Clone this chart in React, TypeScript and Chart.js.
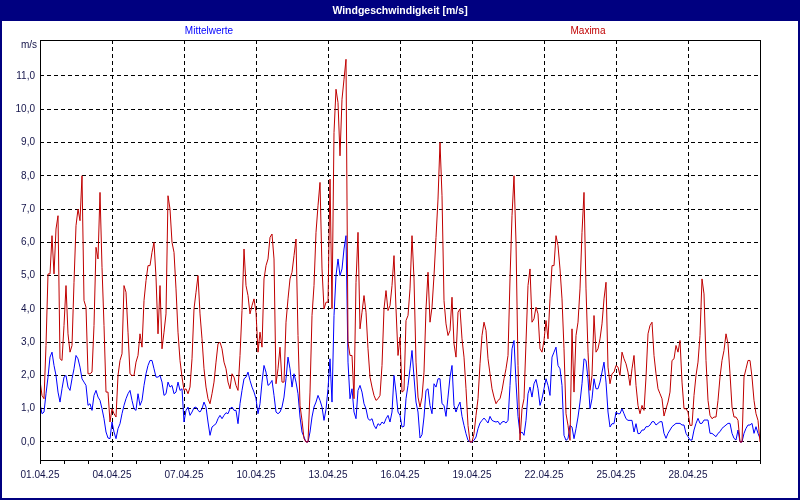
import React, { useEffect, useRef } from 'react';
import { Chart, registerables } from 'chart.js';

Chart.register(...registerables);

const TITLE = 'Windgeschwindigkeit [m/s]';
const UNIT = 'm/s';
const MEAN_LABEL = 'Mittelwerte';
const MAX_LABEL = 'Maxima';

// x axis: days since 01.04.25, labels every third day
const X_TICK_DAYS = [0, 3, 6, 9, 12, 15, 18, 21, 24, 27];
const X_TICK_LABELS = ['01.04.25', '04.04.25', '07.04.25', '10.04.25', '13.04.25', '16.04.25', '19.04.25', '22.04.25', '25.04.25', '28.04.25'];
const DAYS = 30;
const SAMPLES_PER_DAY = 12; // one value every 2 hours
const Y_TICKS = [0, 1, 2, 3, 4, 5, 6, 7, 8, 9, 10, 11];

// Maxima [m/s], 01.04. – 30.04.
const MAXIMA = [
  1.85, 1.4, 1.3, 2.9, 5.05, 5.05, 6.2, 5.05, 6.4, 6.8, 2.5, 2.45, 3.5, 4.7, 3.25, 2.7, 2.9, 4.8, 6.5, 7.0,
  6.65, 8.0, 4.25, 4.05, 2.05, 2.05, 2.1, 3.5, 5.85, 5.5, 7.5, 5.25, 3.5, 1.5, 1.5, 0.6, 1.0, 0.85, 0.75, 2.0,
  2.45, 2.65, 4.7, 4.5, 3.3, 2.05, 2.0, 2.0, 2.4, 2.6, 3.25, 2.85, 4.25, 4.85, 5.3, 5.3, 5.7, 6.0, 4.95, 3.25,

  4.7, 2.8, 3.3, 3.85, 7.4, 7.0, 6.0, 5.7, 4.6, 3.3, 2.45, 1.95, 1.55, 1.6, 1.45, 1.65, 2.5, 4.0, 4.5, 5.0,
  3.85, 3.1, 2.2, 1.65, 1.3, 1.15, 1.45, 1.8, 2.4, 2.95, 3.0, 2.8, 2.4, 2.2, 1.8, 1.6, 2.05, 1.95, 1.7, 1.55,
  2.6, 3.95, 5.8, 4.7, 4.4, 3.85, 4.1, 4.3, 3.9, 2.7, 3.3, 2.85, 4.9, 5.3, 5.5, 6.15, 6.25, 5.5, 1.75, 2.2,

  2.85, 1.8, 1.8, 3.6, 4.3, 4.9, 5.1, 5.6, 6.1, 3.2, 1.1, 0.65, 0.1, 0.0, 0.0, 1.5, 3.8, 4.7, 6.3, 7.1,
  7.8, 5.2, 4.0, 4.2, 4.2, 7.9, 4.0, 9.3, 10.6, 10.2, 8.6, 10.3, 10.9, 11.5, 3.0, 2.6, 2.6, 1.3, 4.8, 6.3,
  3.4, 3.9, 4.4, 3.9, 2.8, 1.95, 1.65, 1.4, 1.25, 1.3, 1.4, 2.3, 4.0, 4.55, 3.95, 4.1, 4.7, 5.6, 4.0, 2.6,

  3.15, 1.5, 1.55, 3.65, 3.8, 4.6, 6.2, 4.9, 2.4, 1.35, 1.05, 1.35, 2.1, 4.0, 5.1, 3.6, 4.05, 5.0, 6.15, 7.3,
  9.0, 7.4, 4.25, 3.55, 3.2, 3.35, 4.35, 2.95, 2.55, 3.9, 4.0, 3.1, 2.55, 1.6, 0.5, 0.0, 0.0, 0.25, 0.8, 1.3,
  2.35, 3.2, 3.6, 3.35, 2.5, 2.05, 1.6, 1.35, 1.15, 1.25, 1.3, 1.55, 1.9, 2.2, 2.6, 4.9, 6.8, 8.0, 6.0, 2.3,

  0.05, 1.0, 1.3, 3.0, 4.7, 5.2, 3.6, 3.7, 4.05, 3.85, 2.8, 2.7, 3.05, 3.65, 3.1, 4.3, 5.3, 5.3, 6.2, 5.9,
  5.2, 4.3, 2.8, 0.85, 0.5, 0.05, 3.4, 1.5, 3.2, 3.6, 4.6, 6.3, 7.5, 4.6, 2.7, 1.55, 2.0, 3.8, 2.7, 2.8,
  3.1, 3.55, 4.3, 4.8, 2.25, 1.75, 2.05, 2.1, 2.3, 2.25, 2.0, 2.7, 2.5, 2.35, 2.1, 1.7, 2.2, 2.6, 1.7, 1.1,

  0.85, 1.1, 0.95, 1.95, 3.25, 3.5, 3.6, 2.6, 2.05, 1.6, 1.45, 1.3, 0.78, 1.0, 1.2, 1.5, 2.45, 2.5, 2.9, 2.7,
  3.05, 1.8, 1.0, 1.0, 0.9, 0.5, 0.5, 1.4, 2.0, 2.4, 3.2, 4.9, 4.45, 2.45, 1.25, 0.8, 0.7, 0.75, 0.75, 1.25,
  1.95, 2.45, 2.75, 3.25, 2.95, 2.05, 1.05, 0.75, 0.75, 0.65, 0.0, 0.0, 1.95, 2.2, 2.45, 2.45, 1.95, 1.25, 0.85, 0.65,
  0.0,
];

// Mittelwerte [m/s], 01.04. – 30.04.
const MITTELWERTE = [
  1.15, 0.85, 0.9, 1.45, 1.95, 2.55, 2.7, 2.3, 2.0, 1.5, 1.2, 1.6, 1.95, 2.0, 1.65, 1.55, 1.9, 2.2, 2.6, 2.5,
  2.25, 1.9, 1.8, 1.7, 1.1, 1.15, 0.95, 1.4, 1.55, 1.35, 1.25, 1.0, 0.7, 0.3, 0.12, 0.1, 0.6, 0.3, 0.1, 0.4,
  0.55, 0.85, 1.1, 1.3, 1.45, 1.55, 1.25, 1.0, 0.95, 1.45, 1.1, 1.25, 1.7, 2.05, 2.3, 2.45, 2.45, 2.2, 1.95, 1.95,

  2.0, 1.8, 1.4, 1.45, 1.8, 1.65, 1.7, 1.45, 1.5, 1.8, 1.55, 1.6, 0.6, 0.95, 1.05, 0.8, 0.9, 1.03, 1.05, 0.95,
  0.9, 1.0, 1.2, 1.05, 0.6, 0.2, 0.45, 0.5, 0.55, 0.7, 0.8, 0.7, 0.8, 0.88, 0.85, 1.0, 1.05, 0.95, 0.95, 0.55,
  1.15, 1.55, 1.9, 1.95, 2.1, 1.85, 1.65, 1.5, 1.3, 0.85, 1.15, 1.8, 2.3, 2.1, 1.7, 1.75, 1.85, 1.4, 0.9, 0.85,

  0.9, 1.05, 1.35, 1.9, 2.55, 2.2, 1.65, 2.05, 1.8, 1.45, 0.75, 0.3, 0.15, 0.0, 0.0, 0.3, 0.75, 1.05, 1.2, 1.4,
  1.25, 1.05, 0.65, 0.98, 1.6, 2.5, 1.2, 3.8, 5.0, 5.5, 5.0, 5.2, 5.8, 6.2, 2.4, 1.3, 1.6, 0.9, 0.7, 1.55,
  1.7, 1.5, 1.15, 1.0, 0.7, 0.65, 0.7, 0.5, 0.4, 0.55, 0.5, 0.6, 0.55, 0.7, 0.8, 0.6, 0.9, 2.0, 1.5, 0.9,

  0.8, 0.45, 0.47, 1.3, 1.7, 2.2, 2.75, 1.95, 1.2, 0.9, 0.12, 0.22, 0.75, 1.55, 1.6, 1.1, 0.85, 1.75, 1.65, 1.9,
  1.9, 1.15, 1.1, 0.77, 1.35, 1.95, 2.3, 1.1, 0.9, 1.07, 1.2, 0.77, 0.5, 0.25, 0.05, 0.0, 0.0, 0.05, 0.15, 0.4,
  0.57, 0.65, 0.72, 0.65, 0.57, 0.77, 0.65, 0.62, 0.6, 0.62, 0.52, 0.6, 0.62, 0.57, 0.65, 1.7, 2.8, 3.05, 1.8, 0.77,

  0.25, 0.3, 0.2, 0.65, 1.45, 1.65, 1.35, 1.75, 1.88, 1.6, 1.1, 1.3, 1.6, 1.9, 1.7, 1.4, 2.55, 2.7, 2.85, 2.3,
  2.2, 1.7, 0.2, 0.05, 0.1, 0.5, 0.45, 0.1, 0.4, 0.75, 1.2, 1.75, 2.5, 2.45, 1.9, 1.0, 1.3, 1.9, 1.6, 1.6,
  1.8, 2.1, 2.4, 1.8, 0.9, 0.45, 0.55, 0.55, 0.9, 0.85, 0.85, 1.0, 0.85, 0.7, 0.65, 0.65, 0.65, 0.3, 0.55, 0.25,

  0.26, 0.36, 0.36, 0.46, 0.46, 0.51, 0.61, 0.61, 0.51, 0.56, 0.61, 0.61, 0.26, 0.11, 0.26, 0.36, 0.46, 0.51, 0.56, 0.56,
  0.56, 0.51, 0.51, 0.26, 0.16, 0.06, 0.06, 0.36, 0.56, 0.71, 0.56, 0.56, 0.66, 0.66, 0.66, 0.26, 0.26, 0.21, 0.16, 0.26,
  0.31, 0.41, 0.46, 0.51, 0.56, 0.56, 0.26, 0.11, 0.06, 0.36, 0.0, 0.0, 0.26, 0.41, 0.51, 0.51, 0.56, 0.26, 0.46, 0.26,
  0.11,
];

const NAVY = '#000080';
const BLUE = '#0000ff';
const RED = '#c00000';
const TEXT = '#14144a';
const FONT = '"Liberation Sans", Arial, sans-serif';

const framePlugin = {
  id: 'frame',
  beforeDraw(chart: any) {
    const { ctx, width, height } = chart;
    ctx.save();
    ctx.fillStyle = '#ffffff';
    ctx.fillRect(0, 0, width, height);
    ctx.fillStyle = NAVY;
    ctx.fillRect(0, 0, width, 21);
    ctx.strokeStyle = NAVY;
    ctx.lineWidth = 2;
    ctx.strokeRect(1, 1, width - 2, height - 2);
    ctx.textBaseline = 'middle';
    ctx.textAlign = 'center';
    ctx.fillStyle = '#ffffff';
    ctx.font = `bold 10.5px ${FONT}`;
    ctx.fillText(TITLE, width / 2, 11);
    ctx.font = `10px ${FONT}`;
    ctx.fillStyle = BLUE;
    ctx.fillText(chart.data.datasets[1].label, 209, 31);
    ctx.fillStyle = RED;
    ctx.fillText(chart.data.datasets[0].label, 588, 31);
    ctx.fillStyle = TEXT;
    ctx.textAlign = 'right';
    ctx.fillText(UNIT, 37, 45);
    ctx.restore();
  },
  afterDraw(chart: any) {
    const { ctx, chartArea } = chart;
    ctx.save();
    ctx.strokeStyle = '#000000';
    ctx.lineWidth = 1;
    ctx.strokeRect(chartArea.left + 0.5, chartArea.top + 0.5, chartArea.right - chartArea.left, chartArea.bottom - chartArea.top);
    ctx.restore();
  },
};

export default function App() {
  const ref = useRef<HTMLCanvasElement | null>(null);

  useEffect(() => {
    document.body.style.margin = '0';
    const canvas = ref.current;
    if (!canvas) return;
    const toPoints = (arr: number[]) => arr.map((v, i) => ({ x: i / SAMPLES_PER_DAY, y: v }));
    const chart = new Chart(canvas, {
      type: 'line',
      data: {
        datasets: [
          { label: MAX_LABEL, data: toPoints(MAXIMA), borderColor: RED, borderWidth: 1, pointRadius: 0, tension: 0, fill: false, order: 0 },
          { label: MEAN_LABEL, data: toPoints(MITTELWERTE), borderColor: BLUE, borderWidth: 1, pointRadius: 0, tension: 0, fill: false, order: 1 },
        ],
      },
      options: {
        animation: false,
        responsive: false,
        devicePixelRatio: 1,
        layout: { padding: { top: 40, right: 40, left: 0, bottom: 0 } },
        plugins: { legend: { display: false }, tooltip: { enabled: false }, title: { display: false } },
        scales: {
          x: {
            type: 'linear',
            min: 0,
            max: DAYS,
            afterBuildTicks: (s: any) => {
              const t = [];
              for (let d = 0; d <= DAYS; d++) t.push({ value: d });
              s.ticks = t;
            },
            afterFit: (s: any) => { s.height = 40; },
            ticks: {
              autoSkip: false,
              maxRotation: 0,
              padding: 5,
              color: TEXT,
              font: { family: FONT, size: 10 },
              callback: (v: any) => {
                const idx = X_TICK_DAYS.indexOf(Number(v));
                return idx >= 0 ? X_TICK_LABELS[idx] : '';
              },
            },
            grid: {
              color: (c: any) => (c.tick && X_TICK_DAYS.indexOf(c.tick.value) > 0 ? '#000000' : 'rgba(0,0,0,0)'),
              tickColor: '#000000',
              tickLength: 4,
              lineWidth: 1,
            },
            border: { display: true, color: '#000000', width: 1, dash: [4, 3] },
          },
          y: {
            type: 'linear',
            min: -0.541,
            max: 12.08,
            afterBuildTicks: (s: any) => { s.ticks = Y_TICKS.map((v) => ({ value: v })); },
            afterFit: (s: any) => { s.width = 40; },
            ticks: {
              padding: 5,
              color: TEXT,
              font: { family: FONT, size: 10 },
              callback: (v: any) => Number(v).toFixed(1).replace('.', ','),
            },
            grid: { color: '#000000', lineWidth: 1, drawTicks: false },
            border: { display: false, dash: [4, 3] },
          },
        },
      },
      plugins: [framePlugin],
    } as any);
    return () => chart.destroy();
  }, []);

  return (
    <div style={{ position: 'absolute', left: 0, top: 0, width: 800, height: 500 }}>
      <canvas ref={ref} width={800} height={500} style={{ display: 'block', width: 800, height: 500 }} />
    </div>
  );
}
